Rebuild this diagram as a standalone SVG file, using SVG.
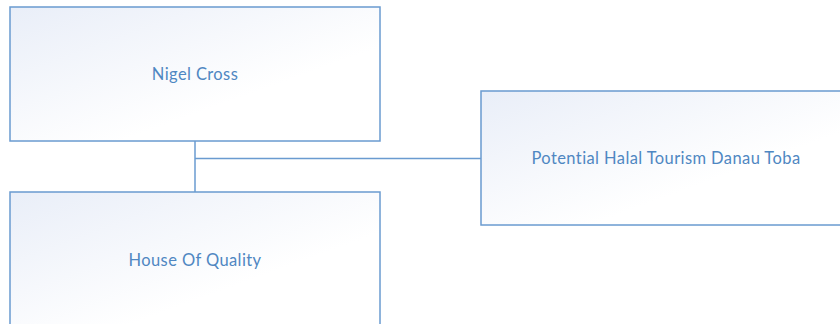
<svg xmlns="http://www.w3.org/2000/svg" width="840" height="324" viewBox="0 0 840 324">
  <defs>
    <linearGradient id="boxFill" x1="0" y1="0" x2="1" y2="1">
      <stop offset="0" stop-color="#e9eef8"/>
      <stop offset="0.65" stop-color="#ffffff"/>
      <stop offset="1" stop-color="#ffffff"/>
    </linearGradient>
  </defs>
  <style>
    .box { fill: url(#boxFill); stroke: #6a9bd0; stroke-width: 1.5; }
    .label { font-family: Lato, "Open Sans", sans-serif; font-size: 16.5px; letter-spacing: 0.4px; fill: #4f87c2; text-anchor: middle; dominant-baseline: central; }
    .link { fill: none; stroke: #6a9bd0; stroke-width: 1.5; }
  </style>
  <rect width="840" height="324" fill="#ffffff"/>
  <g id="connectors">
    <path class="link" d="M195 141 V192"/>
    <path class="link" d="M195 158.5 H481"/>
  </g>
  <g id="node-nigel-cross">
    <rect class="box" x="10" y="7" width="370" height="134"/>
    <text class="label" x="195" y="74">Nigel Cross</text>
  </g>
  <g id="node-house-of-quality">
    <rect class="box" x="10" y="192" width="370" height="136"/>
    <text class="label" x="195" y="260">House Of Quality</text>
  </g>
  <g id="node-potential-halal">
    <rect class="box" x="481" y="91" width="364" height="134"/>
    <text class="label" x="666" y="158">Potential Halal Tourism Danau Toba</text>
  </g>
</svg>
